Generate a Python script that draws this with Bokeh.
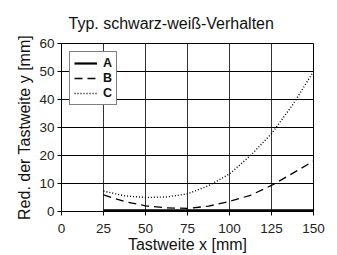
from bokeh.plotting import figure
from bokeh.models import SingleIntervalTicker, Range1d
from bokeh.embed import file_html
from bokeh.resources import INLINE

# Data
x_pts = [25, 37.5, 50, 62.5, 75, 87.5, 100, 112.5, 125, 137.5, 150]
a_vals = [0.4, 0.4, 0.4, 0.4, 0.4, 0.4, 0.4, 0.4, 0.4, 0.4, 0.4]
b_vals = [5.9, 3.6, 2.0, 1.3, 1.1, 1.9, 3.6, 5.8, 9.3, 13.6, 18.0]
c_vals = [7.3, 5.6, 5.0, 5.2, 6.3, 9.2, 13.4, 20.0, 27.8, 38.0, 50.0]
series_labels = ["A", "B", "C"]

FONT = "Liberation Sans"

p = figure(width=337, height=255, output_backend="svg", toolbar_location=None,
           x_range=Range1d(0, 150), y_range=Range1d(0, 60),
           min_border_left=61, min_border_right=24, min_border_top=43,
           min_border_bottom=44)

p.background_fill_color = "white"
p.border_fill_color = "white"
p.outline_line_color = "black"
p.outline_line_width = 1

p.title.text = "Typ. schwarz-weiß-Verhalten"
p.title.text_font = FONT
p.title.text_font_size = "16px"
p.title.text_font_style = "normal"
p.title.text_color = "#111111"
p.title.align = "left"
p.title.offset = 7
p.title.standoff = 24

p.xaxis.ticker = SingleIntervalTicker(interval=25, num_minor_ticks=0)
p.yaxis.ticker = SingleIntervalTicker(interval=10, num_minor_ticks=0)

for ax in (p.xaxis, p.yaxis):
    ax.axis_line_color = "black"
    ax.major_tick_line_color = "black"
    ax.major_tick_out = 4
    ax.major_tick_in = 0
    ax.minor_tick_line_color = None
    ax.major_label_text_font = FONT
    ax.major_label_text_font_size = "13.5px"
    ax.major_label_text_color = "#222222"
    ax.axis_label_text_font = FONT
    ax.axis_label_text_font_size = "16px"
    ax.axis_label_text_font_style = "normal"
    ax.axis_label_text_color = "#111111"

p.xaxis.axis_label = "Tastweite x [mm]"
p.yaxis.axis_label = "Red. der Tastweite y [mm]"
p.xaxis.major_label_standoff = 8
p.xaxis.axis_label_standoff = 0
p.yaxis.major_label_standoff = 3
p.yaxis.axis_label_standoff = 3

p.xgrid.grid_line_color = "#333333"
p.xgrid.grid_line_width = 1
p.ygrid.grid_line_color = "black"
p.ygrid.grid_line_width = 1

p.line(x_pts, a_vals, line_color="black", line_width=2.2, legend_label=series_labels[0])
p.line(x_pts, b_vals, line_color="black", line_width=1.3, line_dash="8 5",
       legend_label=series_labels[1])
p.line(x_pts, c_vals, line_color="black", line_width=1.4, line_dash="1 2",
       legend_label=series_labels[2])

lg = p.legend[0]
lg.location = "top_left"
lg.margin = 8
lg.padding = 4
lg.spacing = 1
lg.label_height = 14
lg.label_width = 9
lg.glyph_height = 14
lg.glyph_width = 23
lg.label_standoff = 6
lg.border_line_color = "black"
lg.border_line_width = 1
lg.background_fill_color = "white"
lg.background_fill_alpha = 1
lg.label_text_font = FONT
lg.label_text_font_size = "12.5px"
lg.label_text_font_style = "bold"
lg.label_text_color = "#111111"

open("out.html", "w").write(file_html(p, INLINE))
